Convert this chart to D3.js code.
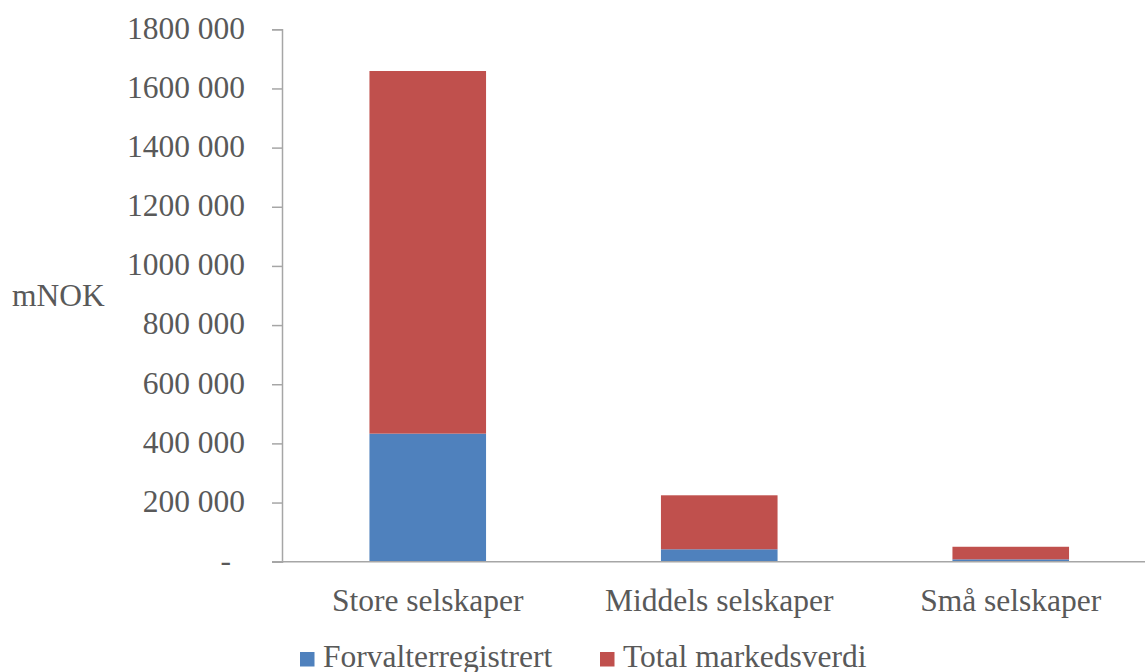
<!DOCTYPE html>
<html>
<head>
<meta charset="utf-8">
<script src="https://cdn.jsdelivr.net/npm/d3@7"></script>
<style>
  html, body { margin: 0; padding: 0; background: #fff; }
  svg { display: block; }
  text { font-family: "Liberation Serif", "Times New Roman", serif; fill: #595959; }
</style>
</head>
<body>
<svg id="chart" width="1145" height="672"></svg>
<script>
// Market value by company size (mNOK)
const categories = ["Store selskaper", "Middels selskaper", "Små selskaper"];
const seriesNames = ["Forvalterregistrert", "Total markedsverdi"];
const forvalterregistrert = [433000, 42000, 8000];
const totalMarkedsverdi = [1226000, 182500, 42500];
const tickValues = [0, 200000, 400000, 600000, 800000, 1000000, 1200000, 1400000, 1600000, 1800000];
const tickLabels = ["-", "200 000", "400 000", "600 000", "800 000", "1000 000", "1200 000", "1400 000", "1600 000", "1800 000"];
const colors = ["#4f81bd", "#c0504d"];

const svg = d3.select("#chart");
const axisColor = "#a6a6a6";
const fontSize = 31.5;

const plotLeft = 282, plotRight = 1156.5, plotTop = 29.3, plotBottom = 561.7;

const x = d3.scaleBand().domain(categories).range([plotLeft, plotRight])
  .paddingInner(0.6).paddingOuter(0.3);
const y = d3.scaleLinear().domain([0, 1800000]).range([plotBottom, plotTop]);

const rows = categories.map((c, i) => ({
  cat: c,
  [seriesNames[0]]: forvalterregistrert[i],
  [seriesNames[1]]: totalMarkedsverdi[i]
}));
const stacked = d3.stack().keys(seriesNames)(rows);

// Bars
svg.append("g").selectAll("g").data(stacked).join("g")
  .attr("fill", (d, i) => colors[i])
  .selectAll("rect").data(d => d).join("rect")
  .attr("x", d => x(d.data.cat))
  .attr("width", x.bandwidth())
  .attr("y", d => y(d[1]))
  .attr("height", d => y(d[0]) - y(d[1]));

// Y axis
const yAxis = d3.axisLeft(y).tickValues(tickValues).tickSize(10).tickPadding(27)
  .tickFormat((d, i) => tickLabels[i]);
const gy = svg.append("g").attr("transform", `translate(${plotLeft},0)`).call(yAxis);
gy.select(".domain").attr("stroke", axisColor).attr("stroke-width", 1.5);
gy.selectAll(".tick line").attr("stroke", axisColor).attr("stroke-width", 1.5);
gy.selectAll(".tick text")
  .attr("font-family", "Liberation Serif, serif")
  .attr("font-size", fontSize).attr("fill", "#595959")
  .attr("dy", "0.28em");
gy.selectAll(".tick text").filter(d => d === 0).attr("dx", -14);

// X axis
const xAxis = d3.axisBottom(x).tickSize(0).tickPadding(27);
const gx = svg.append("g").attr("transform", `translate(0,${plotBottom})`).call(xAxis);
gx.select(".domain").attr("d", `M${plotLeft - 10},0H1145`).attr("stroke", axisColor).attr("stroke-width", 1.5);
gx.selectAll(".tick text")
  .attr("font-family", "Liberation Serif, serif")
  .attr("font-size", fontSize).attr("fill", "#595959");

// Axis title
svg.append("text").attr("x", 12).attr("y", 306)
  .attr("font-size", fontSize).text("mNOK");

// Legend
const legendX = [300, 600];
const lg = svg.append("g").selectAll("g").data(seriesNames).join("g")
  .attr("transform", (d, i) => `translate(${legendX[i]},652)`);
lg.append("rect").attr("width", 14.5).attr("height", 14.5).attr("fill", (d, i) => colors[i]);
lg.append("text").attr("x", 23).attr("y", 14.5).attr("font-size", fontSize).text(d => d);
</script>
</body>
</html>
